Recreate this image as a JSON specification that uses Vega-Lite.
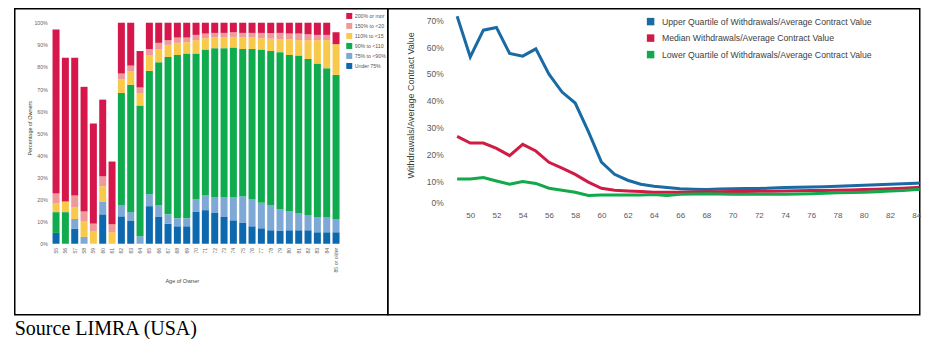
{
  "$schema": "https://vega.github.io/schema/vega-lite/v6.json",
  "background": "white",
  "padding": {"left": 13.75, "top": 7.75, "right": 0, "bottom": 0},
  "bounds": "flush",
  "spacing": 0,
  "config": {
    "font": "Liberation Sans",
    "view": {"stroke": "black", "strokeWidth": 1.5},
    "axis": {"grid": false, "ticks": false, "domain": false, "labelFlush": false, "labelOverlap": false}
  },
  "title": {"text": "Source LIMRA (USA)", "orient": "bottom", "anchor": "start", "font": "Liberation Serif", "fontSize": 20, "fontWeight": "normal", "color": "black", "baseline": "alphabetic", "offset": 19, "frame": "group"},
  "resolve": {"scale": {"color": "independent"}, "legend": {"color": "independent"}},
  "datasets": {
    "bandorder": [
      {"band": "Under 75%", "rank": 1},
      {"band": "75% to <90%", "rank": 2},
      {"band": "90% to <110%", "rank": 3},
      {"band": "110% to <150%", "rank": 4},
      {"band": "150% to <200%", "rank": 5},
      {"band": "200% or more", "rank": 6}
    ],
    "bars": [
      {"age": "55", "Under 75%": 4.9, "75% to <90%": 0, "90% to <110%": 9.4, "110% to <150%": 3.9, "150% to <200%": 4.5, "200% or more": 74.2},
      {"age": "56", "Under 75%": 0, "75% to <90%": 0, "90% to <110%": 14.3, "110% to <150%": 4.8, "150% to <200%": 0, "200% or more": 65.1},
      {"age": "57", "Under 75%": 6.7, "75% to <90%": 4.5, "90% to <110%": 0, "110% to <150%": 5.2, "150% to <200%": 5.4, "200% or more": 62.4},
      {"age": "58", "Under 75%": 0, "75% to <90%": 3.1, "90% to <110%": 0, "110% to <150%": 6.9, "150% to <200%": 4.6, "200% or more": 56.4},
      {"age": "59", "Under 75%": 0, "75% to <90%": 0, "90% to <110%": 0, "110% to <150%": 5.5, "150% to <200%": 3.6, "200% or more": 45.3},
      {"age": "60", "Under 75%": 13.3, "75% to <90%": 5.8, "90% to <110%": 0, "110% to <150%": 6.9, "150% to <200%": 4.5, "200% or more": 34.7},
      {"age": "61", "Under 75%": 0, "75% to <90%": 0, "90% to <110%": 0, "110% to <150%": 5.2, "150% to <200%": 3.6, "200% or more": 28.4},
      {"age": "62", "Under 75%": 12.4, "75% to <90%": 4.9, "90% to <110%": 50.9, "110% to <150%": 6.1, "150% to <200%": 2.7, "200% or more": 23.0},
      {"age": "63", "Under 75%": 10.3, "75% to <90%": 4.0, "90% to <110%": 57.6, "110% to <150%": 6.0, "150% to <200%": 2.7, "200% or more": 19.4},
      {"age": "64", "Under 75%": 0, "75% to <90%": 3.4, "90% to <110%": 59.1, "110% to <150%": 5.7, "150% to <200%": 2.5, "200% or more": 16.5},
      {"age": "65", "Under 75%": 17.0, "75% to <90%": 5.4, "90% to <110%": 55.8, "110% to <150%": 7.2, "150% to <200%": 2.7, "200% or more": 11.9},
      {"age": "66", "Under 75%": 12.1, "75% to <90%": 5.2, "90% to <110%": 64.8, "110% to <150%": 6.0, "150% to <200%": 2.8, "200% or more": 9.1},
      {"age": "67", "Under 75%": 9.1, "75% to <90%": 4.2, "90% to <110%": 71.2, "110% to <150%": 5.5, "150% to <200%": 2.1, "200% or more": 7.9},
      {"age": "68", "Under 75%": 7.9, "75% to <90%": 3.6, "90% to <110%": 73.9, "110% to <150%": 5.5, "150% to <200%": 2.4, "200% or more": 6.7},
      {"age": "69", "Under 75%": 7.9, "75% to <90%": 3.6, "90% to <110%": 74.6, "110% to <150%": 5.1, "150% to <200%": 2.1, "200% or more": 6.7},
      {"age": "70", "Under 75%": 14.6, "75% to <90%": 5.4, "90% to <110%": 66.1, "110% to <150%": 6.0, "150% to <200%": 2.4, "200% or more": 5.5},
      {"age": "71", "Under 75%": 15.2, "75% to <90%": 6.9, "90% to <110%": 65.8, "110% to <150%": 5.1, "150% to <200%": 2.1, "200% or more": 4.9},
      {"age": "72", "Under 75%": 13.9, "75% to <90%": 7.3, "90% to <110%": 67.3, "110% to <150%": 4.8, "150% to <200%": 2.1, "200% or more": 4.6},
      {"age": "73", "Under 75%": 12.1, "75% to <90%": 9.1, "90% to <110%": 67.3, "110% to <150%": 4.8, "150% to <200%": 2.1, "200% or more": 4.6},
      {"age": "74", "Under 75%": 10.6, "75% to <90%": 10.3, "90% to <110%": 67.9, "110% to <150%": 4.8, "150% to <200%": 2.1, "200% or more": 4.3},
      {"age": "75", "Under 75%": 9.4, "75% to <90%": 12.1, "90% to <110%": 66.6, "110% to <150%": 5.2, "150% to <200%": 2.1, "200% or more": 4.6},
      {"age": "76", "Under 75%": 7.9, "75% to <90%": 12.1, "90% to <110%": 68.1, "110% to <150%": 5.2, "150% to <200%": 2.1, "200% or more": 4.6},
      {"age": "77", "Under 75%": 7.0, "75% to <90%": 11.5, "90% to <110%": 69.4, "110% to <150%": 5.1, "150% to <200%": 2.4, "200% or more": 4.6},
      {"age": "78", "Under 75%": 6.1, "75% to <90%": 11.2, "90% to <110%": 69.9, "110% to <150%": 5.5, "150% to <200%": 2.7, "200% or more": 4.6},
      {"age": "79", "Under 75%": 5.8, "75% to <90%": 9.9, "90% to <110%": 71.0, "110% to <150%": 5.7, "150% to <200%": 3.0, "200% or more": 4.6},
      {"age": "80", "Under 75%": 6.1, "75% to <90%": 8.7, "90% to <110%": 70.6, "110% to <150%": 7.0, "150% to <200%": 2.7, "200% or more": 4.9},
      {"age": "81", "Under 75%": 6.1, "75% to <90%": 7.8, "90% to <110%": 71.3, "110% to <150%": 6.9, "150% to <200%": 3.0, "200% or more": 4.9},
      {"age": "82", "Under 75%": 6.1, "75% to <90%": 6.9, "90% to <110%": 70.6, "110% to <150%": 8.5, "150% to <200%": 2.7, "200% or more": 5.2},
      {"age": "83", "Under 75%": 5.2, "75% to <90%": 6.9, "90% to <110%": 69.4, "110% to <150%": 10.6, "150% to <200%": 2.4, "200% or more": 5.5},
      {"age": "84", "Under 75%": 5.2, "75% to <90%": 6.9, "90% to <110%": 67.3, "110% to <150%": 12.7, "150% to <200%": 2.4, "200% or more": 5.5},
      {"age": "85 or older", "Under 75%": 5.2, "75% to <90%": 6.0, "90% to <110%": 65.2, "110% to <150%": 13.9, "150% to <200%": 0, "200% or more": 5.4}
    ],
    "lines": [
      {"age": 49, "upper": 71.5, "median": 26.7, "lower": 10.8},
      {"age": 50, "upper": 56.3, "median": 24.2, "lower": 10.8},
      {"age": 51, "upper": 66.3, "median": 24.2, "lower": 11.3},
      {"age": 52, "upper": 67.3, "median": 22.2, "lower": 10.0},
      {"age": 53, "upper": 57.6, "median": 19.5, "lower": 8.8},
      {"age": 54, "upper": 56.6, "median": 23.7, "lower": 9.8},
      {"age": 55, "upper": 59.3, "median": 21.2, "lower": 9.1},
      {"age": 56, "upper": 49.9, "median": 17.0, "lower": 7.3},
      {"age": 57, "upper": 43.2, "median": 14.8, "lower": 6.6},
      {"age": 58, "upper": 39.1, "median": 12.5, "lower": 5.8},
      {"age": 59, "upper": 28.5, "median": 9.6, "lower": 4.6},
      {"age": 60, "upper": 17.1, "median": 7.3, "lower": 4.8},
      {"age": 61, "upper": 12.5, "median": 6.6, "lower": 4.8},
      {"age": 62, "upper": 10.3, "median": 6.3, "lower": 4.8},
      {"age": 63, "upper": 8.8, "median": 6.1, "lower": 4.8},
      {"age": 64, "upper": 8.1, "median": 5.8, "lower": 5.0},
      {"age": 65, "upper": 7.6, "median": 5.8, "lower": 4.6},
      {"age": 66, "upper": 7.1, "median": 5.8, "lower": 5.1},
      {"age": 67, "upper": 6.9, "median": 5.9, "lower": 5.2},
      {"age": 68, "upper": 6.8, "median": 6.0, "lower": 5.3},
      {"age": 69, "upper": 7.0, "median": 6.0, "lower": 5.2},
      {"age": 70, "upper": 7.1, "median": 6.1, "lower": 5.1},
      {"age": 71, "upper": 7.2, "median": 6.1, "lower": 5.1},
      {"age": 72, "upper": 7.2, "median": 6.2, "lower": 5.1},
      {"age": 73, "upper": 7.4, "median": 6.2, "lower": 5.1},
      {"age": 74, "upper": 7.6, "median": 6.3, "lower": 5.1},
      {"age": 75, "upper": 7.7, "median": 6.4, "lower": 5.2},
      {"age": 76, "upper": 7.8, "median": 6.5, "lower": 5.3},
      {"age": 77, "upper": 7.9, "median": 6.5, "lower": 5.4},
      {"age": 78, "upper": 8.1, "median": 6.6, "lower": 5.6},
      {"age": 79, "upper": 8.2, "median": 6.7, "lower": 5.7},
      {"age": 80, "upper": 8.4, "median": 6.8, "lower": 5.8},
      {"age": 81, "upper": 8.6, "median": 6.9, "lower": 6.0},
      {"age": 82, "upper": 8.8, "median": 7.1, "lower": 6.3},
      {"age": 83, "upper": 9.0, "median": 7.3, "lower": 6.5},
      {"age": 84, "upper": 9.2, "median": 7.6, "lower": 6.8},
      {"age": 85, "upper": 9.4, "median": 7.8, "lower": 7.0}
    ]
  },
  "hconcat": [
    {
      "width": 373,
      "height": 306,
      "data": {"name": "bars"},
      "transform": [
        {"fold": ["Under 75%", "75% to <90%", "90% to <110%", "110% to <150%", "150% to <200%", "200% or more"], "as": ["band", "pct"]},
        {"lookup": "band", "from": {"data": {"name": "bandorder"}, "key": "band", "fields": ["rank"]}}
      ],
      "mark": {"type": "bar"},
      "encoding": {
        "x": {
          "field": "age", "type": "nominal", "sort": null,
          "scale": {"range": [36.63, 325.96], "paddingInner": 0.25, "paddingOuter": 0.125},
          "axis": {"title": "Age of Owner", "labelAngle": -90, "labelFontSize": 5.2, "labelColor": "#666666", "labelPadding": 3, "offset": -70.5,
                   "titleFontSize": 5.5, "titleFontWeight": "normal", "titleColor": "#444444", "titleX": 167, "titleY": 36, "titleBaseline": "middle", "titleAlign": "center"}
        },
        "y": {
          "field": "pct", "type": "quantitative", "stack": "zero",
          "scale": {"domain": [-32.13, 106.33], "nice": false, "zero": false},
          "axis": {"title": "Percentage of Owners", "values": [0, 10, 20, 30, 40, 50, 60, 70, 80, 90, 100], "labelExpr": "datum.value + '%'",
                   "labelFontSize": 5.2, "labelColor": "#666666", "labelPadding": 2, "offset": -34.5,
                   "titleFontSize": 5.5, "titleFontWeight": "normal", "titleColor": "#444444", "titleX": -20, "titleY": 119, "titleBaseline": "middle", "titleAlign": "center", "titleAngle": 270}
        },
        "color": {
          "field": "band", "type": "nominal",
          "scale": {"domain": ["200% or more", "150% to <200%", "110% to <150%", "90% to <110%", "75% to <90%", "Under 75%"],
                    "range": ["#d6174b", "#ee9a9b", "#f8c94b", "#0fab4e", "#7ea8d6", "#0d68ad"]},
          "legend": {"title": null, "orient": "none", "legendX": 331.5, "legendY": 4.2, "symbolType": "square", "symbolSize": 36, "symbolStrokeWidth": 0, "symbolOpacity": 1,
                     "labelFontSize": 5.2, "labelColor": "#555555", "labelOffset": 2.5, "rowPadding": 3, "padding": 0, "labelExpr": "substring(datum.label, 0, 11)"}
        },
        "order": {"field": "rank", "type": "quantitative"}
      }
    },
    {
      "width": 532,
      "height": 306,
      "data": {"name": "lines"},
      "transform": [{"fold": ["upper", "median", "lower"], "as": ["series", "ratio"]}],
      "mark": {"type": "line", "strokeWidth": 3, "clip": true},
      "encoding": {
        "x": {
          "field": "age", "type": "quantitative",
          "scale": {"domain": [43.711, 84.266], "nice": false, "zero": false},
          "axis": {"title": null, "values": [50, 52, 54, 56, 58, 60, 62, 64, 66, 68, 70, 72, 74, 76, 78, 80, 82, 84], "labelFontSize": 8, "labelColor": "#595959", "labelPadding": 4, "offset": -106.9}
        },
        "y": {
          "field": "ratio", "type": "quantitative",
          "scale": {"domain": [-39.89, 74.29], "nice": false, "zero": false},
          "axis": {"title": "Withdrawals/Average Contract Value", "values": [0, 10, 20, 30, 40, 50, 60, 70], "labelExpr": "datum.value + '%'",
                   "labelFontSize": 8.5, "labelColor": "#595959", "labelPadding": 3, "offset": -58.5,
                   "labelBaseline": {"condition": {"test": "datum.value === 0", "value": "bottom"}, "value": "middle"},
                   "titleFontSize": 9, "titleFontWeight": "normal", "titleColor": "#404040", "titleX": -35.3, "titleY": 96, "titleBaseline": "middle", "titleAlign": "center", "titleAngle": 270}
        },
        "color": {
          "field": "series", "type": "nominal",
          "scale": {"domain": ["upper", "median", "lower"], "range": ["#1a6aa3", "#d01c45", "#12a84c"]},
          "legend": {"title": null, "orient": "none", "legendX": 258.5, "legendY": 8.5, "symbolType": "square", "symbolSize": 56, "symbolStrokeWidth": 0,
                     "labelFontSize": 8.7, "labelColor": "#404040", "labelOffset": 7, "rowPadding": 6.5, "padding": 0,
                     "labelExpr": "datum.label === 'upper' ? 'Upper Quartile of Withdrawals/Average Contract Value' : datum.label === 'median' ? 'Median Withdrawals/Average Contract Value' : 'Lower Quartile of Withdrawals/Average Contract Value'",
                     "labelLimit": 400,
                     "encode": {"symbols": {"update": {"fill": {"signal": "datum.value === 'upper' ? '#1a6aa3' : datum.value === 'median' ? '#d01c45' : '#12a84c'"}, "fillOpacity": {"value": 1}, "strokeWidth": {"value": 0}}}}}
        }
      }
    }
  ]
}
